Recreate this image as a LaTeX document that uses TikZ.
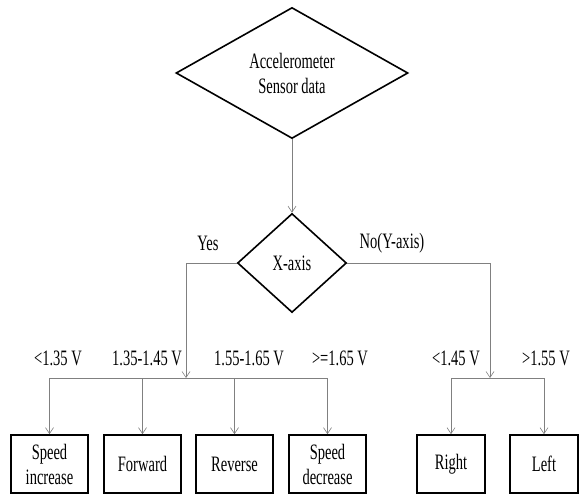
\documentclass[tikz,border=0pt]{standalone}
\usepackage{fontspec}
\setmainfont{Liberation Serif}[FakeStretch=0.66]
\usepackage{tikz}
\usetikzlibrary{positioning, arrows.meta, shapes.geometric}

\begin{document}
\begin{tikzpicture}[
    x=1pt, y=-1pt,
    txt/.style={font=\fontsize{22}{25}\selectfont, align=center},
    decision/.style={diamond, draw, line width=1.6pt, txt, inner sep=0pt},
    box/.style={draw, line width=1.6pt, txt, minimum width=77pt, minimum height=58pt, inner sep=0pt},
    conn/.style={-{Straight Barb[length=6pt,width=8pt]}, gray, line width=0.6pt},
    line/.style={gray, line width=0.6pt}
]
\useasboundingbox (0,0) rectangle (579,495);
\node[decision, minimum width=232pt, minimum height=131pt, shape aspect=1.77] (sensor) at (292,73) {Accelerometer\\ Sensor data};
\node[decision, minimum width=109pt, minimum height=99pt, shape aspect=1.1] (xaxis) at (292,263) {X-axis};
\node[box] (spdinc) at (49.5,464) {Speed\\ increase};
\node[box] (fwd) at (142.5,464) {Forward};
\node[box] (rev) at (234.5,464) {Reverse};
\node[box] (spddec) at (327.5,464) {Speed\\ decrease};
\node[box, minimum width=68pt] (right) at (451,464) {Right};
\node[box, minimum width=68pt] (left) at (544,464) {Left};
% branch labels
\node[txt] (yes) at (208,243) {Yes};
\node[txt] (no) at (392,243) {No(Y-axis)};
\node[txt] (v1) at (58,358) {<1.35 V};
\node[txt] (v2) at (147,358) {1.35-1.45 V};
\node[txt] (v3) at (249,358) {1.55-1.65 V};
\node[txt] (v4) at (340,358) {>=1.65 V};
\node[txt] (v5) at (456,358) {<1.45 V};
\node[txt] (v6) at (546,358) {>1.55 V};
\coordinate (xsplit) at (186,378);
\coordinate (ysplit) at (490,378);
\draw[conn] (sensor.south) -- (xaxis.north);
\draw[conn] (xaxis.west) -| (xsplit);
\draw[conn] (xaxis.east) -| (ysplit);
\draw[line] (spdinc.north |- xsplit) -- (spddec.north |- xsplit);
\draw[line] (right.north |- ysplit) -- (left.north |- ysplit);
\foreach \b in {spdinc, fwd, rev, spddec}
    \draw[conn] (\b.north |- xsplit) -- (\b.north);
\foreach \b in {right, left}
    \draw[conn] (\b.north |- ysplit) -- (\b.north);
\end{tikzpicture}
\end{document}
